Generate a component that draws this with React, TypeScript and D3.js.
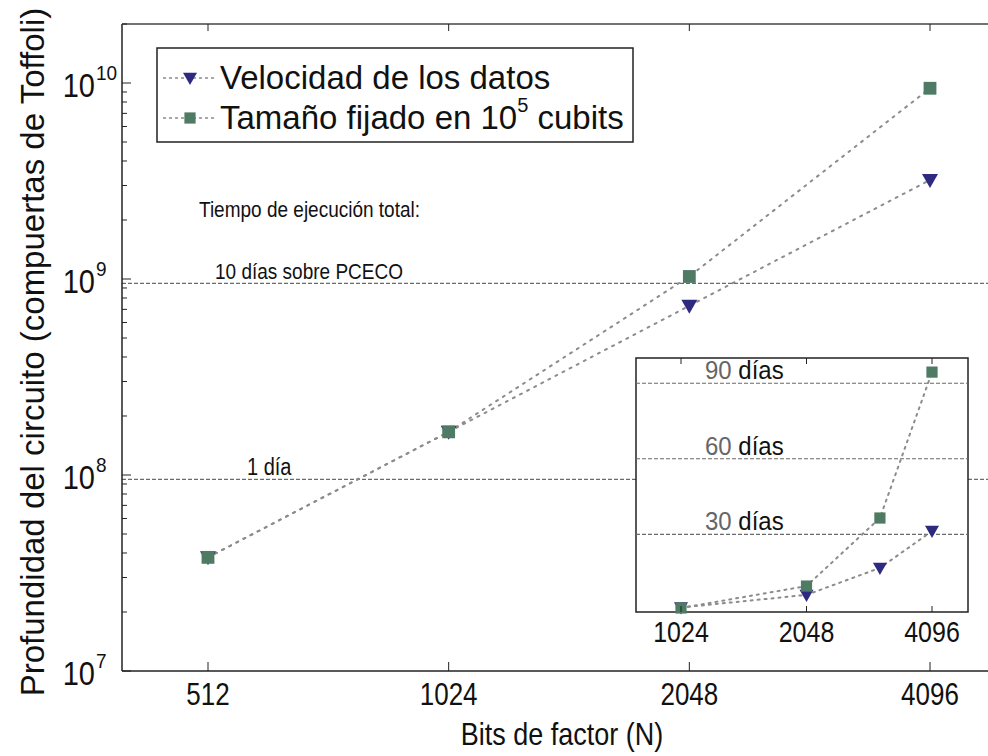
import React from 'react';
import * as d3 from 'd3';

// main chart: circuit depth vs bits
const bits = [512, 1024, 2048, 4096];
const velocidad = [3.8e7, 1.66e8, 7.3e8, 3.2e9];
const tamano = [3.8e7, 1.66e8, 1.03e9, 9.4e9];
const yDecades = [7, 8, 9, 10];
const refLines = [
  { value: 9.5e8, label: '10 días sobre PCECO' },
  { value: 9.5e7, label: '1 día' },
];

// inset: run time in days
const insetBits = [1024, 2048, 3072, 4096];
const insetTicks = [1024, 2048, 4096];
const insetVelocidad = [1, 6, 16.7, 31.3];
const insetTamano = [0.8, 9.5, 36.5, 94.4];
const insetDays = [30, 60, 90];

const FONT = '"Liberation Sans", Arial, Helvetica, sans-serif';
const BLUE = '#2e2a80';
const GREEN = '#4f7a63';
const DOT = '#8c8c8c';
const DASH = '#6a6a6a';

const tri = (s: number) => `M${-s},${-s * 0.75}L${s},${-s * 0.75}L0,${s}Z`;

function Marker({ kind, cx, cy, s }: { kind: string; cx: number; cy: number; s: number }) {
  if (kind === 'tri') {
    return <path d={tri(s)} transform={`translate(${cx},${cy})`} fill={BLUE} />;
  }
  return <rect x={cx - s * 0.8} y={cy - s * 0.8} width={s * 1.6} height={s * 1.6} fill={GREEN} />;
}

// text with a little vertical stretch, like the scanned figure
function T({ x, y, sy = 1, rot = 0, children, ...rest }: any) {
  return (
    <text transform={`translate(${x},${y}) rotate(${rot}) scale(1,${sy})`} fill="#111" {...rest}>
      {children}
    </text>
  );
}

export default function App() {
  const W = 988, H = 756;
  const left = 122, top = 24, bottom = 671, right = 988;

  const x = d3.scaleLog().base(2).domain([512, 4096]).range([208, 930]);
  const y = d3.scaleLog().domain([1e7, 2e10]).range([bottom, top]);

  const line = d3.line<[number, number]>()
    .x(d => x(d[0]))
    .y(d => y(d[1]));

  const series = [
    { name: 'vel', kind: 'tri', values: velocidad, inset: insetVelocidad },
    { name: 'tam', kind: 'sq', values: tamano, inset: insetTamano },
  ];

  const minorTicks = y.ticks().filter(t => {
    const e = Math.log10(t);
    return Math.abs(e - Math.round(e)) > 1e-6;
  });

  // inset frame
  const iL = 636, iR = 968, iT = 358, iB = 612;
  const ix = d3.scaleLog().base(2).domain([1024, 4096]).range([681, 932]);
  const iy = d3.scaleLinear().domain([0, 100]).range([610, iT]);
  const iline = d3.line<[number, number]>()
    .x(d => ix(d[0]))
    .y(d => iy(d[1]));

  return (
    <svg width={W} height={H} style={{ position: 'absolute', left: 0, top: 0, background: '#fff' }} fontFamily={FONT}>
      <rect width={W} height={H} fill="#fff" />

      {/* reference lines */}
      {refLines.map(r => (
        <line key={r.label} x1={left} x2={right} y1={y(r.value)} y2={y(r.value)}
          stroke={DASH} strokeWidth={1.1} strokeDasharray="4,2" />
      ))}
      <T x={199} y={217} sy={1.15} fontSize={19}>Tiempo de ejecución total:</T>
      <T x={215} y={y(refLines[0].value) - 4} sy={1.15} fontSize={19}>{refLines[0].label}</T>
      <T x={247} y={y(refLines[1].value) - 4} sy={1.15} fontSize={20}>{refLines[1].label}</T>

      {/* series lines */}
      {series.map(s => (
        <path key={s.name} d={line(bits.map((b, i) => [b, s.values[i]] as [number, number])) || ''}
          fill="none" stroke={DOT} strokeWidth={2} strokeDasharray="2,6" strokeLinecap="round" />
      ))}
      {series.map(s => bits.map((b, i) => (
        <Marker key={s.name + b} kind={s.kind} cx={x(b)} cy={y(s.values[i])} s={8} />
      )))}

      {/* frame */}
      <line x1={left} x2={left} y1={top} y2={bottom} stroke="#222" strokeWidth={1.5} />
      <line x1={left} x2={right} y1={bottom} y2={bottom} stroke="#222" strokeWidth={1.5} />
      <line x1={left} x2={right} y1={top} y2={top} stroke="#444" strokeWidth={1.5} />

      {/* y ticks */}
      {yDecades.map(k => (
        <g key={k}>
          <line x1={left} x2={left + 9} y1={y(10 ** k)} y2={y(10 ** k)} stroke="#222" />
          <T x={95} y={y(10 ** k) + 14} sy={1.15} fontSize={29} textAnchor="end">10</T>
          <T x={96} y={y(10 ** k) - 3} sy={1.1} fontSize={19}>{k}</T>
        </g>
      ))}
      {minorTicks.map(t => (
        <line key={t} x1={left} x2={left + 5} y1={y(t)} y2={y(t)} stroke="#222" />
      ))}

      {/* x ticks */}
      {bits.map(b => (
        <g key={b}>
          <line x1={x(b)} x2={x(b)} y1={bottom} y2={bottom - 9} stroke="#222" />
          <line x1={x(b)} x2={x(b)} y1={top} y2={top + 7} stroke="#222" />
          <T x={x(b)} y={705} sy={1.2} fontSize={26} textAnchor="middle">{b}</T>
        </g>
      ))}

      {/* axis titles */}
      <T x={562} y={745} sy={1.15} fontSize={27} textAnchor="middle">Bits de factor (N)</T>
      <T x={44} y={352} rot={-90} fontSize={33} textAnchor="middle">
        Profundidad del circuito (compuertas de Toffoli)
      </T>

      {/* legend */}
      <rect x={157} y={48} width={476} height={94} fill="#fff" stroke="#222" strokeWidth={1.5} />
      {series.map((s, i) => {
        const ly = 78 + i * 40;
        return (
          <g key={s.name}>
            <line x1={163} x2={215} y1={ly} y2={ly} stroke={DOT} strokeWidth={1.5} strokeDasharray="3,3" />
            <Marker kind={s.kind} cx={190} cy={ly} s={7} />
          </g>
        );
      })}
      <T x={220} y={89} fontSize={33}>Velocidad de los datos</T>
      <T x={220} y={129} fontSize={33}>
        Tamaño fijado en 10<tspan dy={-17} fontSize={20}>5</tspan><tspan dy={17}> cubits</tspan>
      </T>

      {/* inset */}
      <rect x={iL} y={iT} width={iR - iL} height={iB - iT} fill="#fff" stroke="#222" strokeWidth={1.5} />
      {insetDays.map(d => (
        <g key={d}>
          <line x1={iL} x2={iR} y1={iy(d)} y2={iy(d)} stroke={DASH} strokeWidth={1.1} strokeDasharray="4,2" />
          <T x={705} y={iy(d) - 4} sy={1.1} fontSize={24} fill="#666">{d}
            <tspan fill="#111"> días</tspan>
          </T>
        </g>
      ))}
      {series.map(s => (
        <path key={s.name} d={iline(insetBits.map((b, i) => [b, s.inset[i]] as [number, number])) || ''}
          fill="none" stroke={DOT} strokeWidth={2} strokeDasharray="2,5" strokeLinecap="round" />
      ))}
      {series.map(s => insetBits.map((b, i) => (
        <Marker key={s.name + b} kind={s.kind} cx={ix(b)} cy={iy(s.inset[i])} s={7} />
      )))}
      {insetTicks.map(b => (
        <g key={b}>
          <line x1={ix(b)} x2={ix(b)} y1={iB} y2={iB - 6} stroke="#222" />
          <line x1={ix(b)} x2={ix(b)} y1={iT} y2={iT + 6} stroke="#222" />
          <T x={ix(b)} y={642} sy={1.15} fontSize={25} textAnchor="middle">{b}</T>
        </g>
      ))}
    </svg>
  );
}
